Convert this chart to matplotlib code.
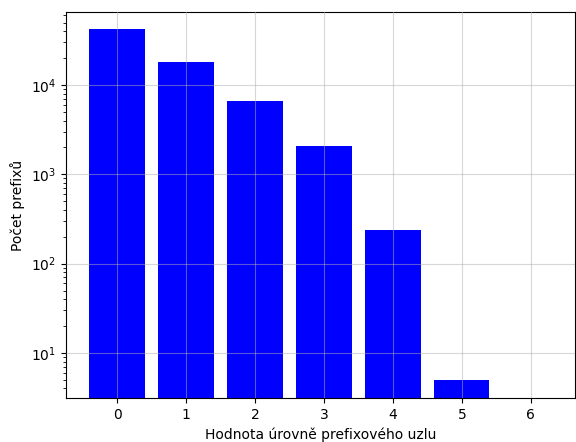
import matplotlib
matplotlib.use("Agg")
import matplotlib.pyplot as plt

# pocet prefixu podle urovne uzlu
urovne = [0, 1, 2, 3, 4, 5, 6]
pocty = [42100, 18200, 6600, 2060, 235, 5, 0]

fig = plt.figure(figsize=(5.76, 4.42), dpi=100)
ax = fig.add_axes([66 / 576, 1 - 398 / 442, 509 / 576, 386 / 442])

ax.bar(urovne, pocty, width=0.8, color="blue", zorder=1)
ax.set_yscale("log")
ax.set_ylim(3.13, 65600)
ax.set_xlim(-0.74, 6.64)
ax.set_xticks(urovne)
ax.grid(True, color="#b0b0b0", alpha=0.5, linewidth=0.8, zorder=2)
ax.set_axisbelow(False)

ax.set_xlabel("Hodnota úrovně prefixového uzlu")
ax.set_ylabel("Počet prefixů")

fig.savefig("out.png", dpi=100)
